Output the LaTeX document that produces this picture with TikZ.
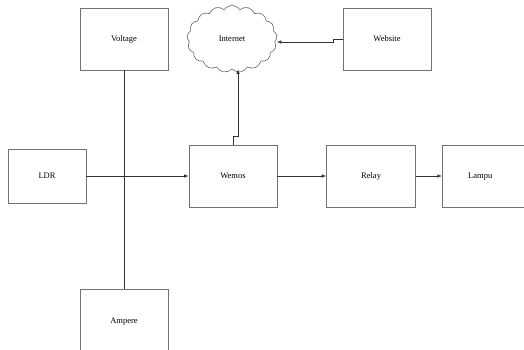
\documentclass[tikz,border=0pt]{standalone}
\usepackage{fontspec}
\setmainfont{Liberation Serif}
\usetikzlibrary{shapes, shapes.symbols, arrows, positioning}

\begin{document}
\begin{tikzpicture}[x=1pt, y=-1pt,
  box/.style={rectangle, draw=black!55, minimum width=88pt, minimum height=62pt, inner sep=0pt,
    text height=1.6ex, text depth=.3ex},
  font=\fontsize{8.5}{10}\selectfont,
  line width=0.6pt]

  \useasboundingbox (0,0) rectangle (524,349);
  \clip (0,0) rectangle (524,349);

  \node[box](V) at (124,39){Voltage};
  \node[box, minimum height=64pt](A) at (124,321){Ampere};
  \node[box, minimum width=78pt, minimum height=54pt](L) at (47,176){LDR};
  \node[box](W) at (233,176){Wemos};
  \node[box, minimum width=89pt](R)[right=49pt of W]{Relay};
  \node[box](P)[right=26pt of R]{\hspace*{-12pt}Lampu};
  \node[cloud, draw=black!60, cloud puffs=17, cloud puff arc=110, aspect=1.4,
    minimum width=90pt, minimum height=67pt, inner sep=0pt](I) at (232,39){Internet};
  \node[box](S) at (387,39){Website};

  \draw[black!80] (V.south) -- (A.north);
  \draw[black!80, -latex] (L.east) -- (W.west);
  \draw[black!80, -latex] (W.east) -- (R.west);
  \draw[black!80, -latex] (R.east) -- (P.west);
  \draw[black!80, -latex] (W.north) -- ++(0,-8) -| ([xshift=6pt]I.south);
  \draw[black!80, -latex] (S.west) -- ++(-9,0) |- ([yshift=-3pt]I.east);
\end{tikzpicture}
\end{document}
